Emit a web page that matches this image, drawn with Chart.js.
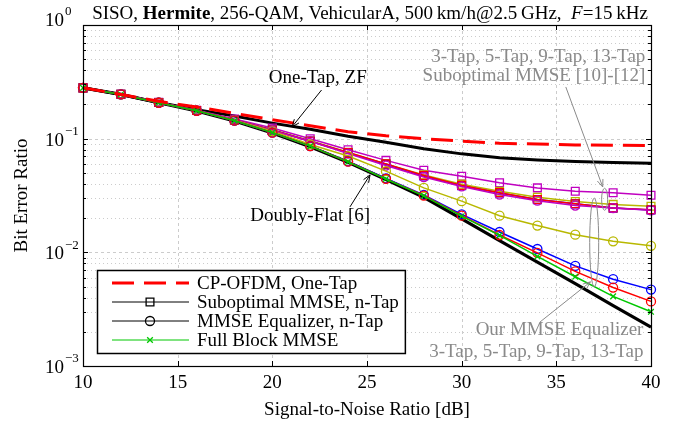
<!DOCTYPE html>
<html><head><meta charset="utf-8">
<script src="https://cdn.jsdelivr.net/npm/chart.js@4/dist/chart.umd.min.js"></script>
<style>html,body{margin:0;padding:0;background:#fff}#wrap{width:684px;height:426px;position:relative}</style>
</head><body><div id="wrap"><canvas id="c" width="684" height="426"></canvas></div>
<script>
// ---- data ----
const snr = [10,12,14,16,18,20,22,24,26,28,30,32,34,36,38,40];
const cpOfdmOneTap = [0.28,0.245,0.213,0.19,0.167,0.147,0.130,0.115,0.106,0.100,0.095,0.091,0.0897,0.088,0.0875,0.087];
const oneTapZF     = [0.28,0.244,0.208,0.18,0.158,0.137,0.121,0.105,0.093,0.0815,0.0735,0.068,0.065,0.063,0.0618,0.0608];
const doublyFlat   = [0.28,0.245,0.207,0.175,0.143,0.112,0.085,0.062,0.0438,0.0305,0.0197,0.0127,0.0082,0.0053,0.0034,0.0022];
const subopt3  = [0.28,0.246,0.209,0.178,0.149,0.124,0.100,0.080,0.0644,0.0528,0.0466,0.0409,0.0369,0.0345,0.0334,0.0318];
const subopt5  = [0.28,0.246,0.208,0.177,0.146,0.120,0.096,0.076,0.060,0.048,0.0398,0.0345,0.0305,0.028,0.0264,0.0254];
const subopt9  = [0.28,0.246,0.208,0.177,0.146,0.119,0.095,0.075,0.0595,0.047,0.0385,0.0333,0.0291,0.0267,0.0245,0.0236];
const subopt13 = [0.28,0.246,0.208,0.177,0.146,0.119,0.095,0.0755,0.060,0.0475,0.0388,0.0335,0.0292,0.0268,0.0246,0.0237];
const mmse3  = [0.28,0.246,0.208,0.177,0.146,0.118,0.095,0.074,0.058,0.046,0.038,0.0322,0.0285,0.0258,0.0245,0.0234];
const mmse5  = [0.28,0.245,0.208,0.176,0.145,0.116,0.089,0.0703,0.0518,0.0369,0.0282,0.021,0.0172,0.0143,0.0125,0.0114];
const mmse9  = [0.28,0.245,0.207,0.176,0.144,0.113,0.086,0.063,0.0447,0.032,0.0216,0.0151,0.0107,0.0076,0.0058,0.0047];
const mmse13 = [0.28,0.245,0.207,0.176,0.144,0.113,0.086,0.0627,0.0443,0.0316,0.021,0.0142,0.0099,0.0068,0.0049,0.0037];
const fullBlock = [0.28,0.245,0.207,0.176,0.144,0.113,0.086,0.0625,0.0442,0.0314,0.0208,0.0141,0.0092,0.0061,0.0041,0.0030];
const xTicks = [10,15,20,25,30,35,40];
const yDecades = [1,0.1,0.01,0.001];
const yExponents = ['0','\u22121','\u22122','\u22123'];
const legendLabels = ['CP-OFDM, One-Tap','Suboptimal MMSE, n-Tap','MMSE Equalizer, n-Tap','Full Block MMSE'];

const serif = '"Liberation Serif","Times New Roman",serif';
const FS = 19;
const GRAY = '#8a8a8a';
const MAG = '#c000c0', OLV = '#b8b800', RED = '#ff0000', BLU = '#0000ff', GRN = '#00c800';

const pts = arr => snr.map((s,i)=>({x:s,y:arr[i]}));
function ds(arr, color, width, style, radius, order, dash){
  return {data:pts(arr), borderColor:color, borderWidth:width, borderDash:dash||[],
    pointStyle:style||false, pointRadius:style?radius:0, pointBorderColor:color,
    pointBackgroundColor:'rgba(0,0,0,0)', pointBorderWidth:1.3, order:order, clip:false, tension:0};
}
const datasets = [
  ds(cpOfdmOneTap, RED, 3, null, 0, 0, [22,10]),
  ds(fullBlock, GRN, 1.5, 'crossRot', 4, 1),
  ds(mmse13, RED, 1.5, 'circle', 4.5, 2),
  ds(mmse9, BLU, 1.5, 'circle', 4.5, 3),
  ds(mmse5, OLV, 1.5, 'circle', 4.5, 4),
  ds(mmse3, MAG, 1.5, 'circle', 4.5, 5),
  ds(subopt13, RED, 1.5, 'rect', 5.5, 6),
  ds(subopt9, BLU, 1.5, 'rect', 5.5, 7),
  ds(subopt5, OLV, 1.5, 'rect', 5.5, 8),
  ds(subopt3, MAG, 1.5, 'rect', 5.5, 9),
  ds(doublyFlat, '#000', 3.2, null, 0, 10),
  ds(oneTapZF, '#000', 3, null, 0, 11),
];

function line(ctx,x1,y1,x2,y2){ctx.beginPath();ctx.moveTo(x1,y1);ctx.lineTo(x2,y2);ctx.stroke();}
function arrow(ctx,x1,y1,x2,y2,color){
  ctx.save();ctx.strokeStyle=color;ctx.lineWidth=1;ctx.setLineDash([]);
  line(ctx,x1,y1,x2,y2);
  const a=Math.atan2(y2-y1,x2-x1), L=8, w=0.38;
  ctx.beginPath();ctx.moveTo(x2-L*Math.cos(a-w),y2-L*Math.sin(a-w));ctx.lineTo(x2,y2);
  ctx.lineTo(x2-L*Math.cos(a+w),y2-L*Math.sin(a+w));ctx.stroke();ctx.restore();
}
function marker(ctx,style,x,y,r,color){
  ctx.save();ctx.strokeStyle=color;ctx.lineWidth=1.3;ctx.setLineDash([]);ctx.beginPath();
  if(style==='rect'){const s=r*Math.SQRT1_2;ctx.rect(x-s,y-s,2*s,2*s);}
  else if(style==='circle'){ctx.arc(x,y,r,0,Math.PI*2);}
  else {const s=r*Math.SQRT1_2;ctx.moveTo(x-s,y-s);ctx.lineTo(x+s,y+s);ctx.moveTo(x-s,y+s);ctx.lineTo(x+s,y-s);}
  ctx.stroke();ctx.restore();
}

const deco = {
  id:'deco',
  beforeDatasetsDraw(chart){
    const {ctx, chartArea:a, scales:{x,y}} = chart;
    ctx.save();ctx.lineWidth=1;ctx.strokeStyle='#cccccc';
    ctx.setLineDash([3,3]);
    xTicks.slice(1,-1).forEach(v=>{const p=Math.round(x.getPixelForValue(v))+0.5;line(ctx,p,a.top,p,a.bottom);});
    yDecades.slice(1,-1).forEach(v=>{const p=Math.round(y.getPixelForValue(v))+0.5;line(ctx,a.left,p,a.right,p);});
    ctx.setLineDash([1,3]);
    [0.001,0.01,0.1].forEach(d=>{for(let m=2;m<=9;m++){const p=Math.round(y.getPixelForValue(m*d))+0.5;line(ctx,a.left,p,a.right,p);}});
    ctx.restore();
  },
  afterDraw(chart){
    const {ctx, chartArea:a, scales:{x,y}} = chart;
    const F = (st,sz)=>(st||'')+(sz||FS)+'px '+serif;
    ctx.save();
    // frame
    ctx.strokeStyle='#000';ctx.lineWidth=1.2;ctx.setLineDash([]);
    ctx.strokeRect(a.left+0.5,a.top+0.5,a.right-a.left,a.bottom-a.top);
    ctx.lineWidth=1;
    xTicks.forEach(v=>{const p=Math.round(x.getPixelForValue(v))+0.5;line(ctx,p,a.bottom,p,a.bottom-5);line(ctx,p,a.top,p,a.top+5);});
    yDecades.forEach(v=>{const p=Math.round(y.getPixelForValue(v))+0.5;line(ctx,a.left,p,a.left+5,p);line(ctx,a.right,p,a.right-5,p);});
    [0.001,0.01,0.1].forEach(d=>{for(let m=2;m<=9;m++){const p=Math.round(y.getPixelForValue(m*d))+0.5;line(ctx,a.left,p,a.left+3,p);line(ctx,a.right,p,a.right-3,p);}});
    // x tick labels
    ctx.fillStyle='#000';ctx.font=F();ctx.textAlign='center';ctx.textBaseline='middle';
    xTicks.forEach(v=>ctx.fillText(String(v),x.getPixelForValue(v),a.bottom+17));
    // y tick labels
    yDecades.forEach((v,i)=>{
      let p=y.getPixelForValue(v)+2; if(i===0)p-=6;
      ctx.font=F();ctx.textAlign='right';ctx.fillText('10',a.left-19,p);
      ctx.font=F('',13);ctx.textAlign='left';ctx.fillText(yExponents[i],a.left-18,p-9);
    });
    // axis titles
    ctx.font=F();ctx.textAlign='center';
    ctx.fillText('Signal-to-Noise Ratio [dB]',(a.left+a.right)/2,a.bottom+44);
    ctx.save();ctx.translate(22,(a.top+a.bottom)/2);ctx.rotate(-Math.PI/2);ctx.fillText('Bit Error Ratio',0,0);ctx.restore();
    // title
    const segs=[['SISO, ',''],['Hermite','bold '],[', 256-QAM, VehicularA, 500\u2009km/h@2.5\u2009GHz,  ',''],['F','italic '],['=15\u2009kHz','']];
    let tw=0;segs.forEach(s=>{ctx.font=F(s[1]);tw+=ctx.measureText(s[0]).width;});
    let tx=(a.left+a.right)/2+3-tw/2;ctx.textAlign='left';ctx.textBaseline='alphabetic';
    segs.forEach(s=>{ctx.font=F(s[1]);ctx.fillText(s[0],tx,19);tx+=ctx.measureText(s[0]).width;});
    // legend
    ctx.font=F();
    const maxW=Math.max(...legendLabels.map(t=>ctx.measureText(t).width));
    const lx=a.left+14, ly=a.bottom-96, lw=100+maxW+6, lh=83;
    ctx.fillStyle='#fff';ctx.fillRect(lx,ly,lw,lh);
    ctx.strokeStyle='#000';ctx.lineWidth=1.5;ctx.strokeRect(lx+0.5,ly+0.5,lw,lh);
    const styles=[[RED,3,[22,10],null],['#000',1,[],'rect'],['#000',1,[],'circle'],[GRN,1,[],'crossRot']];
    ctx.textBaseline='middle';
    legendLabels.forEach((t,i)=>{
      const yy=ly+13+i*19, s=styles[i];
      ctx.save();ctx.strokeStyle=s[0];ctx.lineWidth=s[1];ctx.setLineDash(s[2]);line(ctx,lx+15,yy,lx+92,yy);ctx.restore();
      if(s[3])marker(ctx,s[3],lx+53,yy,s[3]==='rect'?5.5:(s[3]==='circle'?4.5:4),s[0]);
      ctx.fillStyle='#000';ctx.textAlign='left';ctx.fillText(t,lx+100,yy+1);
    });
    // annotations
    const P=(dx,v)=>[x.getPixelForValue(dx),y.getPixelForValue(v)];
    ctx.fillStyle='#000';ctx.font=F();ctx.textAlign='center';
    let q=P(22.4,0.342);ctx.fillText('One-Tap, ZF',q[0],q[1]);
    let s1=P(22.6,0.268),t1=P(21.04,0.127);arrow(ctx,s1[0],s1[1],t1[0],t1[1],'#000');
    q=P(22.0,0.0209);ctx.fillText('Doubly-Flat [6]',q[0],q[1]);
    s1=P(24.1,0.0251);t1=P(25.16,0.048);arrow(ctx,s1[0],s1[1],t1[0],t1[1],'#000');
    ctx.fillStyle=GRAY;ctx.textAlign='right';
    q=P(39.7,0.523);ctx.fillText('3-Tap, 5-Tap, 9-Tap, 13-Tap',q[0],q[1]);
    q=P(39.7,0.356);ctx.fillText('Suboptimal MMSE [10]-[12]',q[0],q[1]);
    q=P(39.6,0.00208);ctx.fillText('Our MMSE Equalizer',q[0],q[1]);
    q=P(39.6,0.00133);ctx.fillText('3-Tap, 5-Tap, 9-Tap, 13-Tap',q[0],q[1]);
    s1=P(35.5,0.285);t1=P(37.45,0.0376);arrow(ctx,s1[0],s1[1],t1[0],t1[1],GRAY);
    s1=P(34.14,0.00244);t1=P(36.8,0.0055);arrow(ctx,s1[0],s1[1],t1[0],t1[1],GRAY);
    ctx.strokeStyle=GRAY;ctx.lineWidth=1;
    let c=P(37.55,0.0293);ctx.beginPath();ctx.ellipse(c[0],c[1],3,11,0,0,Math.PI*2);ctx.stroke();
    c=P(37.0,0.0122);ctx.beginPath();ctx.ellipse(c[0],c[1],4.5,44.5,0,0,Math.PI*2);ctx.stroke();
    ctx.restore();
  }
};

new Chart(document.getElementById('c'),{
  type:'line',
  data:{datasets},
  options:{
    responsive:false, animation:false, devicePixelRatio:1,
    layout:{padding:{left:83,right:33,top:25,bottom:60}},
    scales:{
      x:{type:'linear',min:10,max:40,display:false},
      y:{type:'logarithmic',min:0.001,max:1,display:false}
    },
    plugins:{legend:{display:false},tooltip:{enabled:false}}
  },
  plugins:[deco]
});
</script></body></html>
